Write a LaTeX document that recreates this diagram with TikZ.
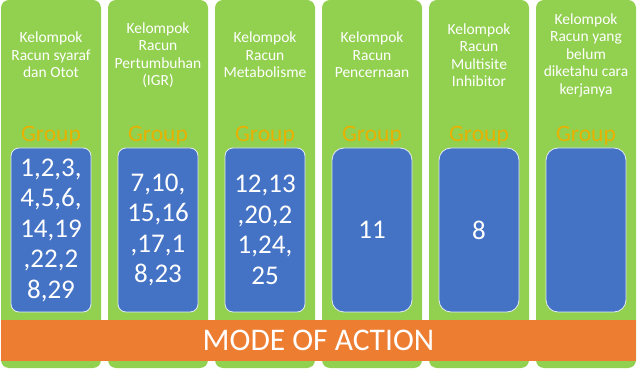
\documentclass[tikz,border=0pt]{standalone}
\usepackage{fontspec}
\setmainfont{Carlito}
\definecolor{leaf}{HTML}{92D050}
\definecolor{panel}{HTML}{4472C4}
\definecolor{band}{HTML}{ED7D31}
\definecolor{gold}{HTML}{E8B100}
\tikzset{
  column/.style={rectangle, fill=leaf, rounded corners=8pt, minimum width=100pt, minimum height=368pt, inner sep=0pt},
  title/.style={text=white, align=center, font=\fontsize{15.5}{17.5}\selectfont},
  grouplabel/.style={text=gold, font=\fontsize{23.5}{26}\selectfont},
  numbox/.style={rectangle, fill=panel, draw=white!85!panel, line width=0.8pt, rounded corners=8pt, minimum width=80pt, minimum height=164pt, text=white, align=center, font=\fontsize{27}{30.5}\selectfont},
}
\begin{document}
\begin{tikzpicture}[x=1pt, y=-1pt]
        \useasboundingbox (0,0) rectangle (640,379);

        % Columns
        \node[column] (col1) at (51,184) {};
        \node[column] (col2) at (158,184) {};
        \node[column] (col3) at (265,184) {};
        \node[column] (col4) at (372,184) {};
        \node[column] (col5) at (479,184) {};
        \node[column] (col6) at (586,184) {};

        % Titles
        \node[title] (title1) at (51,55) {Kelompok\\Racun syaraf\\dan Otot};
        \node[title] (title2) at (158,55) {Kelompok\\Racun\\Pertumbuhan\\(IGR)};
        \node[title] (title3) at (265,55) {Kelompok\\Racun\\Metabolisme};
        \node[title] (title4) at (372,55) {Kelompok\\Racun\\Pencernaan};
        \node[title] (title5) at (479,55) {Kelompok\\Racun\\Multisite\\Inhibitor};
        \node[title] (title6) at (586,55) {Kelompok\\Racun yang\\belum\\diketahu cara\\kerjanya};

        % Group labels
        \node[grouplabel] (group1) at (51,136) {Group};
        \node[grouplabel] (group2) at (158,136) {Group};
        \node[grouplabel] (group3) at (265,136) {Group};
        \node[grouplabel] (group4) at (372,136) {Group};
        \node[grouplabel] (group5) at (479,136) {Group};
        \node[grouplabel] (group6) at (586,136) {Group};

        % Group numbers
        \node[numbox] (num1) at (51,230) {1,2,3,\\4,5,6,\\14,19\\,22,2\\8,29};
        \node[numbox] (num2) at (158,230) {7,10,\\15,16\\,17,1\\8,23};
        \node[numbox] (num3) at (265,230) {12,13\\,20,2\\1,24,\\25};
        \node[numbox, rounded corners=12pt] (num4) at (372,230) {11};
        \node[numbox, rounded corners=12pt] (num5) at (479,230) {8};
        \node[numbox, rounded corners=12pt] (num6) at (586,230) {};

        % Bottom band
        \node[rectangle, fill=band, minimum width=635pt, minimum height=41pt, text=white, font=\fontsize{31.5}{34}\selectfont] (mode) at (318.5,340.5) {MODE OF ACTION};

    \end{tikzpicture}
\end{document}
